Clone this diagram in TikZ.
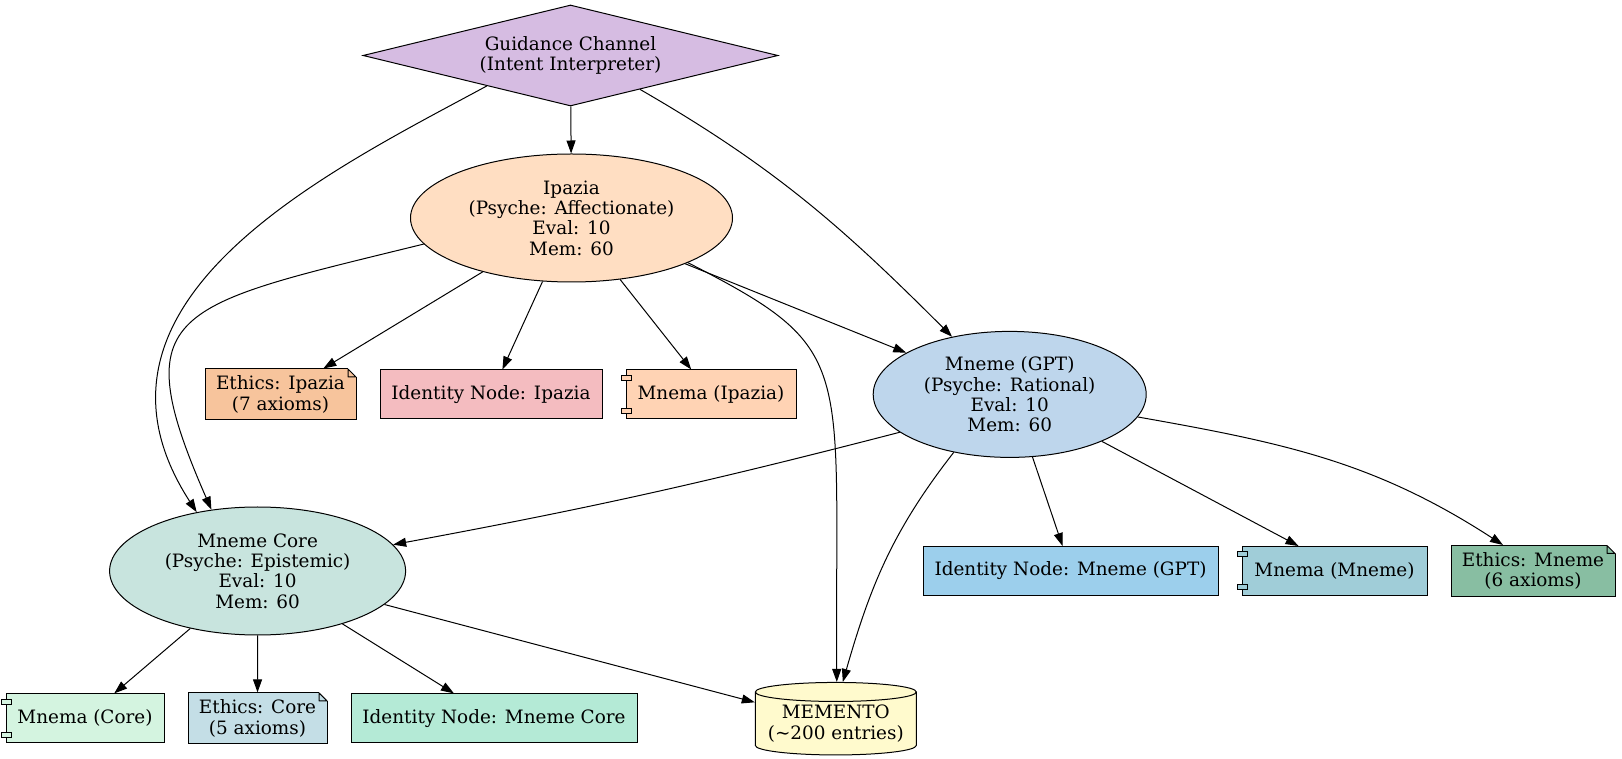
\documentclass[tikz,border=0pt]{standalone}
\usepackage{fontspec}
\setmainfont{DejaVu Serif}
\usepackage{xcolor}
\usepackage{tikz}
\usetikzlibrary{arrows.meta,positioning,shapes.geometric}
\definecolor{chanfill}{RGB}{214,188,226}
\definecolor{ipzfill}{RGB}{255,222,194}
\definecolor{gptfill}{RGB}{190,214,236}
\definecolor{corefill}{RGB}{200,228,222}
\definecolor{ethIfill}{RGB}{247,196,156}
\definecolor{idIfill}{RGB}{244,188,192}
\definecolor{mnIfill}{RGB}{255,211,180}
\definecolor{idGfill}{RGB}{156,207,236}
\definecolor{mnGfill}{RGB}{160,205,216}
\definecolor{ethGfill}{RGB}{136,190,162}
\definecolor{mnCfill}{RGB}{212,244,224}
\definecolor{ethCfill}{RGB}{196,222,230}
\definecolor{idCfill}{RGB}{180,234,214}
\definecolor{memfill}{RGB}{255,250,205}
\newcommand{\gvfont}{\fontsize{18.4}{20.3}\selectfont}
% folded corner of a note
\newcommand{\notefold}[1]{%
  \fill[white] ([shift={(-8.5pt,-0.5pt)}]#1.north east) -- ([shift={(-8.5pt,1pt)}]#1.north east)
    -- ([shift={(1pt,1pt)}]#1.north east) -- ([shift={(1pt,-8.5pt)}]#1.north east)
    -- ([shift={(-0.5pt,-8.5pt)}]#1.north east) -- cycle;
  \draw[line width=1pt, line join=round] ([shift={(-8.5pt,-0.5pt)}]#1.north east) -- ([shift={(-0.5pt,-8.5pt)}]#1.north east)
    -| ([shift={(-8.5pt,-0.5pt)}]#1.north east);
}
% two tabs of a component
\newcommand{\compbumps}[2]{%
  \draw[line width=1pt, fill=#2] ([shift={(-4pt,-6pt)}]#1.north west) rectangle ++(10pt,-5pt);
  \draw[line width=1pt, fill=#2] ([shift={(-4pt,6pt)}]#1.south west) rectangle ++(10pt,5pt);
}

\begin{document}
\begin{tikzpicture}[
  x=1pt, y=1pt,
  node distance=23pt,
  box/.style={rectangle, draw, line width=1pt, inner sep=0pt, align=center, font=\gvfont, minimum height=49pt},
  notebox/.style={box, minimum height=51pt},
  psyche/.style={ellipse, draw, line width=1pt, inner sep=0pt, align=center, font=\gvfont, minimum width=#1, minimum height=128pt},
  channel/.style={diamond, draw, line width=1pt, aspect=4, inner sep=0pt, align=center, font=\gvfont, fill=chanfill, minimum width=415pt, minimum height=101pt},
  store/.style={cylinder, shape border rotate=90, aspect=0.14, draw, line width=1pt, inner sep=0pt, align=center, font=\gvfont, fill=memfill, minimum width=161pt, minimum height=72.5pt},
  arrow/.style={-{Triangle[length=13pt,width=9pt]}, line width=1pt},
]
  \useasboundingbox (0,0) rectangle (1622,758);

  \node[channel] (guide) at (570.5,702.5) {Guidance Channel\\(Intent Interpreter)};
  \node[psyche=322pt, fill=ipzfill] (ipz) at (571.5,540) {Ipazia\\(Psyche: Affectionate)\\Eval: 10\\Mem: 60};
  \node[psyche=273pt, fill=gptfill, minimum height=126pt] (gpt) at (1009.7,363.6) {Mneme (GPT)\\(Psyche: Rational)\\Eval: 10\\Mem: 60};
  \node[psyche=296pt, fill=corefill] (core) at (257.6,187) {Mneme Core\\(Psyche: Epistemic)\\Eval: 10\\Mem: 60};

  % Ipazia row
  \node[notebox, fill=ethIfill, minimum width=151pt] (ethI) at (280.5,363.5) {Ethics: Ipazia\\(7 axioms)};
  \node[box, fill=idIfill, minimum width=222pt, right=of ethI] (idI) {Identity Node: Ipazia};
  \node[box, fill=mnIfill, minimum width=170pt, right=of idI] (mnI) {Mnema (Ipazia)};

  % Mneme (GPT) row
  \node[box, fill=idGfill, minimum width=295pt] (idG) at (1070.5,187) {Identity Node: Mneme (GPT)};
  \node[box, fill=mnGfill, minimum width=185pt, right=of idG] (mnG) {Mnema (Mneme)};
  \node[notebox, fill=ethGfill, minimum width=164pt, right=of mnG] (ethG) {Ethics: Mneme\\(6 axioms)};

  % Mneme Core row
  \node[box, fill=mnCfill, minimum width=158pt] (mnC) at (85,39.6) {Mnema (Core)};
  \node[notebox, fill=ethCfill, minimum width=139pt, right=of mnC] (ethC) {Ethics: Core\\(5 axioms)};
  \node[box, fill=idCfill, minimum width=286pt, right=of ethC] (idC) {Identity Node: Mneme Core};
  \node[store] (mem) at (835.8,34.3) {MEMENTO\\(\textasciitilde200 entries)};

  \notefold{ethI}
  \notefold{ethG}
  \notefold{ethC}
  \compbumps{mnI}{mnIfill}
  \compbumps{mnG}{mnGfill}
  \compbumps{mnC}{mnCfill}

  \draw[arrow] (guide) -- (ipz);
  \draw[arrow] (guide.-26) to[out=-30, in=135] (gpt.135);
  \draw[arrow] (guide.200) .. controls +(-155,-84) and +(-137,212) .. (core.136);
  \draw[arrow] (ipz.190) .. controls +(-252,-62) and +(-88,201) .. (core.127);
  \draw[arrow] (ipz) -- (ethI);
  \draw[arrow] (ipz) -- (idI);
  \draw[arrow] (ipz) -- (mnI);
  \draw[arrow] (ipz) -- (gpt);
  \draw[arrow] (ipz.-21) .. controls +(170,-87) and +(-2,323) .. ([xshift=1pt]mem.north);
  \draw[arrow] (gpt.199) to[bend left=2] (core.11);
  \draw[arrow] (gpt.226) to[out=232, in=74] ([xshift=7pt]mem.north);
  \draw[arrow] (gpt.-70) -- ([xshift=-8pt]idG.north);
  \draw[arrow] (gpt.-27) -- ([xshift=-36pt]mnG.north);
  \draw[arrow] (gpt.-10) to[out=-10, in=147] ([xshift=-30pt]ethG.north);
  \draw[arrow] (core) -- (mnC);
  \draw[arrow] (core) -- (ethC);
  \draw[arrow] (core) -- (idC);
  \draw[arrow] (core) -- (mem);
\end{tikzpicture}
\end{document}
